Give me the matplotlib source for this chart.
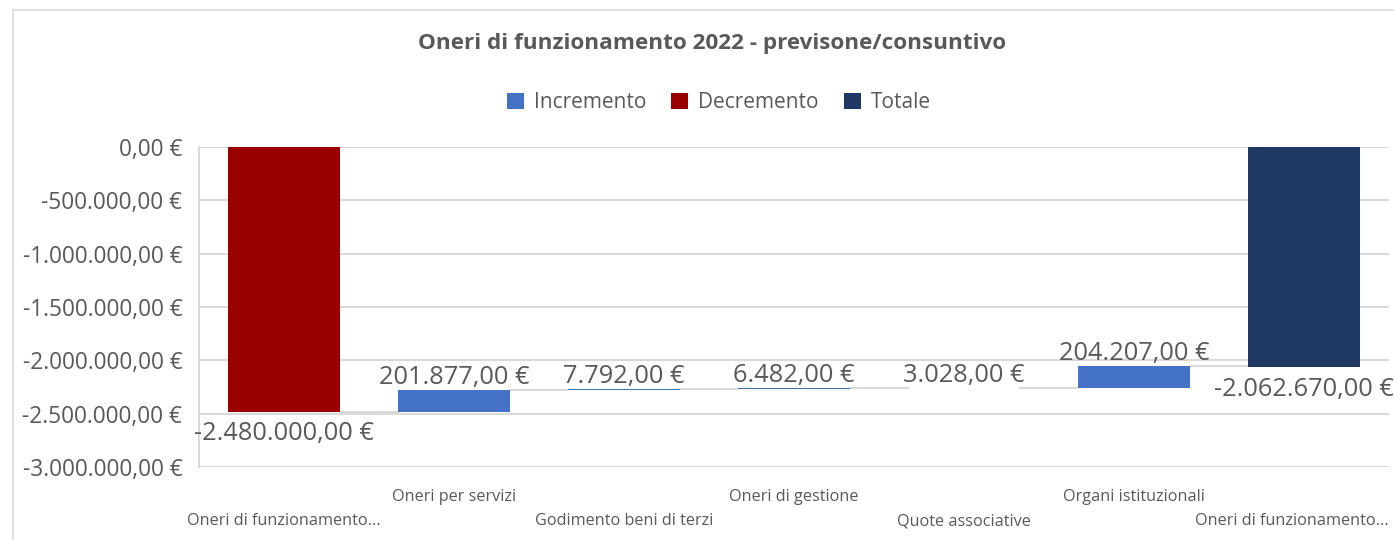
import matplotlib
matplotlib.use("Agg")
import matplotlib.pyplot as plt
from matplotlib.patches import Patch, Rectangle
import numpy as np

plt.rcParams['font.family'] = ['Open Sans', 'DejaVu Sans']

# dati del grafico
categorie = ["Oneri di funzionamento...", "Oneri per servizi", "Godimento beni di terzi",
             "Oneri di gestione", "Quote associative", "Organi istituzionali",
             "Oneri di funzionamento..."]
valori = [-2480000, 201877, 7792, 6482, 3028, 204207, -2062670]
tipi = ["Decremento", "Incremento", "Incremento", "Incremento", "Incremento",
        "Incremento", "Totale"]
y_ticks = [0, -500000, -1000000, -1500000, -2000000, -2500000, -3000000]

colori = {"Incremento": "#4472C4", "Decremento": "#990000", "Totale": "#203864"}
grigio_testo = "#595959"
grigio_linee = "#D9D9D9"


def euro(v, dec=2):
    s = "{:,.{}f}".format(v, dec)
    s = s.replace(",", "X").replace(".", ",").replace("X", ".")
    return s + " €"


fig = plt.figure(figsize=(13.94, 5.40), dpi=100)
W, H = 1394, 540
ax = fig.add_axes([199 / W, 1 - 467 / H, (1389 - 199) / W, (467 - 147) / H])

# cornice esterna dell'area grafico
fig.patches.append(Rectangle((13 / W, -0.1), 1.2, 1 - 10 / H + 0.1, transform=fig.transFigure,
                             fill=False, edgecolor=grigio_linee, linewidth=1.2))

x = np.arange(len(categorie))
larghezza = 0.66

# calcolo basi e altezze del waterfall
basi, altezze, fini = [], [], []
cumulato = 0
for v, t in zip(valori, tipi):
    if t == "Totale":
        basi.append(0)
        altezze.append(v)
        fini.append(v)
    else:
        basi.append(cumulato)
        altezze.append(v)
        cumulato += v
        fini.append(cumulato)

for i in range(len(categorie)):
    ax.bar(x[i], altezze[i], bottom=basi[i], width=larghezza,
           color=colori[tipi[i]], zorder=3)

# linee di collegamento
for i in range(len(categorie) - 1):
    ax.plot([x[i] + larghezza / 2, x[i + 1] - larghezza / 2], [fini[i], fini[i]],
            color=grigio_linee, linewidth=1.5, zorder=2)

# etichette dei dati
for i in range(len(categorie)):
    if valori[i] >= 0:
        ax.annotate(euro(valori[i]), (x[i], basi[i] + altezze[i]), xytext=(0, 0),
                    textcoords="offset points", ha="center", va="bottom",
                    fontsize=18.3, color=grigio_testo, zorder=4, annotation_clip=False)
    else:
        ax.annotate(euro(valori[i]), (x[i], basi[i] + altezze[i]), xytext=(0, -7),
                    textcoords="offset points", ha="center", va="top",
                    fontsize=18.3, color=grigio_testo, zorder=4, annotation_clip=False)

ax.set_xlim(-0.5, len(categorie) - 0.5)
ax.set_ylim(-3000000, 0)
ax.set_yticks(y_ticks)
ax.set_yticklabels([euro(v) for v in y_ticks])
ax.tick_params(axis="y", length=0, pad=12, labelsize=16.3, labelcolor=grigio_testo)
ax.set_xticks([])
ax.yaxis.grid(True, color=grigio_linee, linewidth=1.5, zorder=0)
ax.set_axisbelow(True)
for lato in ["top", "right", "bottom"]:
    ax.spines[lato].set_visible(False)
ax.spines["left"].set_color(grigio_linee)
ax.spines["left"].set_linewidth(1.5)

# etichette categorie sfalsate su due righe
for i, nome in enumerate(categorie):
    yy = -0.169 if i % 2 == 0 else -0.094
    if i == len(categorie) - 1:
        # l'ultima etichetta viene tenuta dentro il bordo destro
        ax.text(1.0, yy, nome, transform=ax.transAxes, ha="right", va="center",
                fontsize=11.7, color=grigio_testo, clip_on=False)
    else:
        ax.text(x[i], yy, nome, transform=ax.get_xaxis_transform(), ha="center", va="center",
                fontsize=11.7, color=grigio_testo, clip_on=False)

fig.text(712 / W, 1 - 44 / H, "Oneri di funzionamento 2022 - previsone/consuntivo",
         ha="center", va="center", fontsize=16.2, fontweight="bold", color=grigio_testo)

maniglie = [Patch(facecolor=colori[k], edgecolor="none") for k in ["Incremento", "Decremento", "Totale"]]
fig.legend(maniglie, ["Incremento", "Decremento", "Totale"], loc="center",
           bbox_to_anchor=(719 / W, 1 - 103 / H), ncol=3, frameon=False,
           fontsize=15, labelcolor=grigio_testo, handlelength=0.8, handleheight=0.8,
           handletextpad=0.5, columnspacing=1.2)

fig.savefig("out.png", dpi=100, facecolor="white")
